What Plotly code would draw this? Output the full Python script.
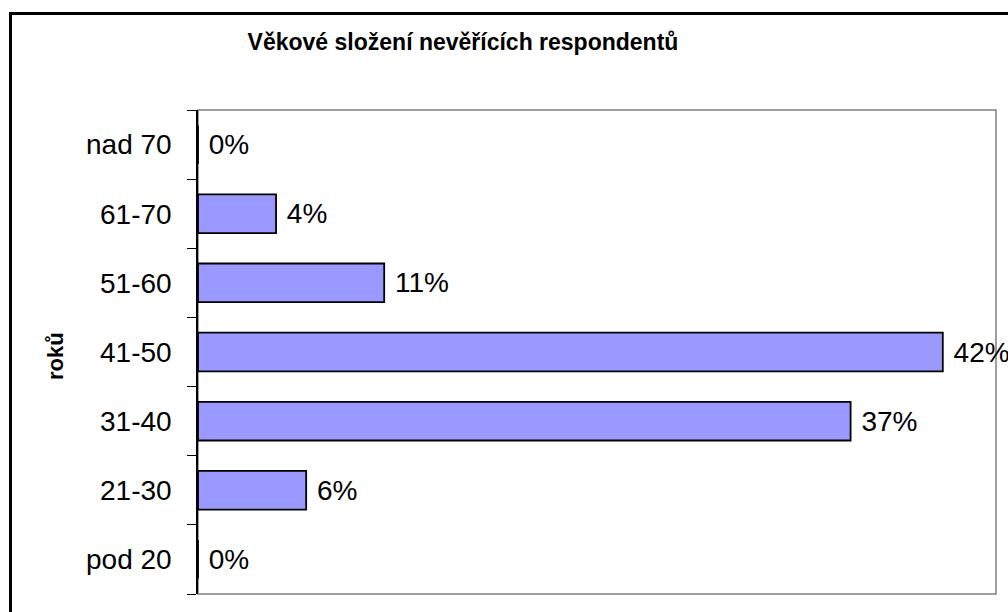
import plotly.graph_objects as go

categories = ["pod 20", "21-30", "31-40", "41-50", "51-60", "61-70", "nad 70"]
values = [0.0, 0.061, 0.368, 0.420, 0.105, 0.044, 0.0]
labels = ["0%", "6%", "37%", "42%", "11%", "4%", "0%"]

title_text = "Věkové složení nevěřících respondentů"
y_title = "roků"

W, H = 1008, 612
L, R, T, B = 198, 12, 110, 18
FONT = "Liberation Sans, Arial"

fig = go.Figure(go.Bar(
    y=categories, x=values, orientation="h",
    text=["\u00a0" + t for t in labels],
    textposition="outside", cliponaxis=False, constraintext="none",
    textfont=dict(family=FONT, size=28, color="#000000"),
    marker=dict(color="#9999FF", line=dict(color="#000000", width=1.8)),
    width=0.56,
    hoverinfo="skip",
))

pw, ph = W - L - R, H - T - B
def px(x):
    return (x - L) / pw
def py(y):
    return (H - B - y) / ph

fig.update_layout(
    width=W, height=H,
    margin=dict(l=L, r=R, t=T, b=B, pad=0),
    paper_bgcolor="white", plot_bgcolor="white",
    showlegend=False,
    title=dict(text="<b>" + title_text + "</b>", x=463 / W, xanchor="center",
               y=1 - 42 / H, yanchor="middle",
               font=dict(family=FONT, size=23, color="#000000")),
    xaxis=dict(range=[0, 0.45], showticklabels=False, showgrid=False, zeroline=False,
               showline=False, ticks=""),
    yaxis=dict(categoryorder="array", categoryarray=categories,
               showgrid=False, zeroline=False, automargin=False,
               showline=True, linecolor="#000000", linewidth=1.5,
               ticks="outside", tickson="boundaries", ticklen=9, tickcolor="#000000",
               tickwidth=1, ticklabelstandoff=19,
               tickfont=dict(family=FONT, size=28, color="#000000")),
    annotations=[
        dict(text="<b>" + y_title + "</b>", xref="paper", yref="paper",
             x=px(55), y=py(356), xanchor="center", yanchor="middle",
             textangle=-90, showarrow=False,
             font=dict(family=FONT, size=22, color="#000000")),
    ],
    shapes=[
        dict(type="rect", xref="paper", yref="paper", x0=0, x1=1, y0=0, y1=1,
             line=dict(color="#808080", width=1.5), fillcolor="rgba(0,0,0,0)", layer="below"),
        dict(type="rect", xref="paper", yref="paper", x0=px(10.5), x1=px(1030), y0=py(13.5), y1=py(640),
             line=dict(color="#000000", width=3), fillcolor="rgba(0,0,0,0)"),
    ],
)

fig.write_html(
    "out.html",
    config={"displayModeBar": False},
    post_script="document.body.style.margin='0';document.body.style.overflow='hidden';"
                "document.documentElement.style.overflow='hidden';",
)
